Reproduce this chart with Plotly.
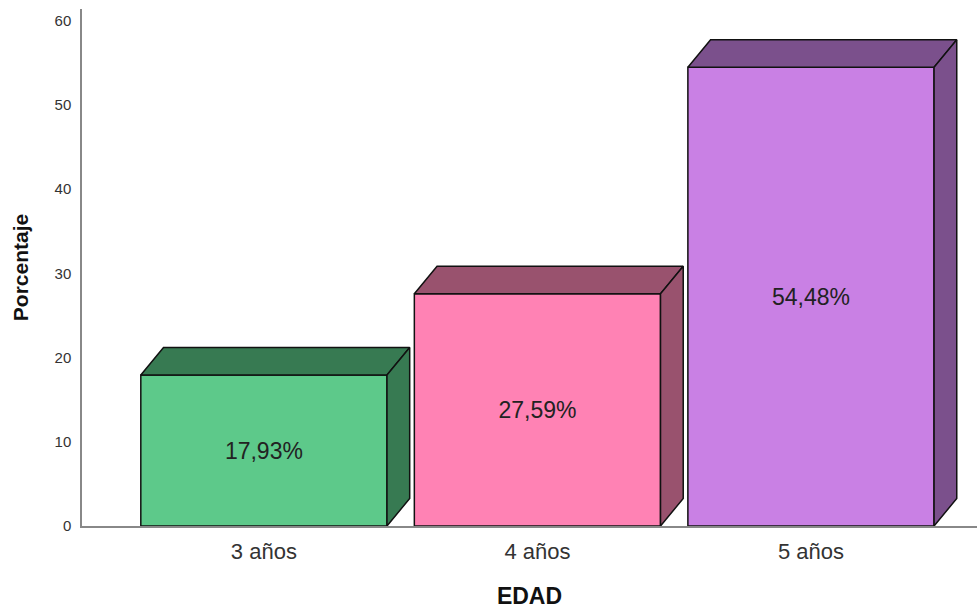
import plotly.graph_objects as go

categories = ["3 años", "4 años", "5 años"]
values = [17.93, 27.59, 54.48]
labels = ["17,93%", "27,59%", "54,48%"]
front_colors = ["#5DC98A", "#FF82B4", "#C980E4"]
side_colors = ["#377A52", "#99526E", "#7B508C"]
y_ticks = [0, 10, 20, 30, 40, 50, 60]

BAR_W = 0.9
DX = 0.083
DY = 3.27

fig = go.Figure()
xs = list(range(len(categories)))

fig.add_trace(go.Bar(
    x=xs, y=values, width=BAR_W,
    marker=dict(color=front_colors, line=dict(color="#111111", width=1.5)),
    text=labels, textposition="inside", insidetextanchor="middle",
    textangle=0,
    textfont=dict(size=23, color="#222222", family="Liberation Sans, Arial, sans-serif"),
    hoverinfo="skip", showlegend=False,
))

for i, (x, h) in enumerate(zip(xs, values)):
    x0, x1 = x - BAR_W / 2, x + BAR_W / 2
    # top face
    fig.add_trace(go.Scatter(
        x=[x0, x1, x1 + DX, x0 + DX, x0], y=[h, h, h + DY, h + DY, h],
        fill="toself", fillcolor=side_colors[i], mode="lines",
        line=dict(color="#111111", width=1.5), hoverinfo="skip", showlegend=False,
    ))
    # side face
    fig.add_trace(go.Scatter(
        x=[x1, x1 + DX, x1 + DX, x1, x1], y=[0, DY, h + DY, h, 0],
        fill="toself", fillcolor=side_colors[i], mode="lines",
        line=dict(color="#111111", width=1.5), hoverinfo="skip", showlegend=False,
    ))

fig.update_layout(
    width=977, height=614,
    margin=dict(l=82, r=0, t=9, b=88),
    plot_bgcolor="white", paper_bgcolor="white",
    font=dict(family="Liberation Sans, Arial, sans-serif", color="#333333"),
    bargap=0.1,
    xaxis=dict(
        range=[-0.665, 2.607], tickvals=xs, ticktext=categories,
        tickfont=dict(size=22, color="#333333"),
        ticks="outside", ticklen=5, tickcolor="rgba(0,0,0,0)",
        showline=True, linecolor="#888888", linewidth=1.5,
        showgrid=False, zeroline=False,
        title=dict(text="<b>EDAD</b>", font=dict(size=23, color="#111111"), standoff=25),
    ),
    yaxis=dict(
        range=[0, 61.4], tickvals=y_ticks,
        tickfont=dict(size=15, color="#333333"),
        ticks="outside", ticklen=6, tickcolor="rgba(0,0,0,0)",
        showline=True, linecolor="#888888", linewidth=1.5,
        showgrid=False, zeroline=False,
        title=dict(text="<b>Porcentaje</b>", font=dict(size=21, color="#111111"), standoff=20),
    ),
)

fig.write_html("out.html")
